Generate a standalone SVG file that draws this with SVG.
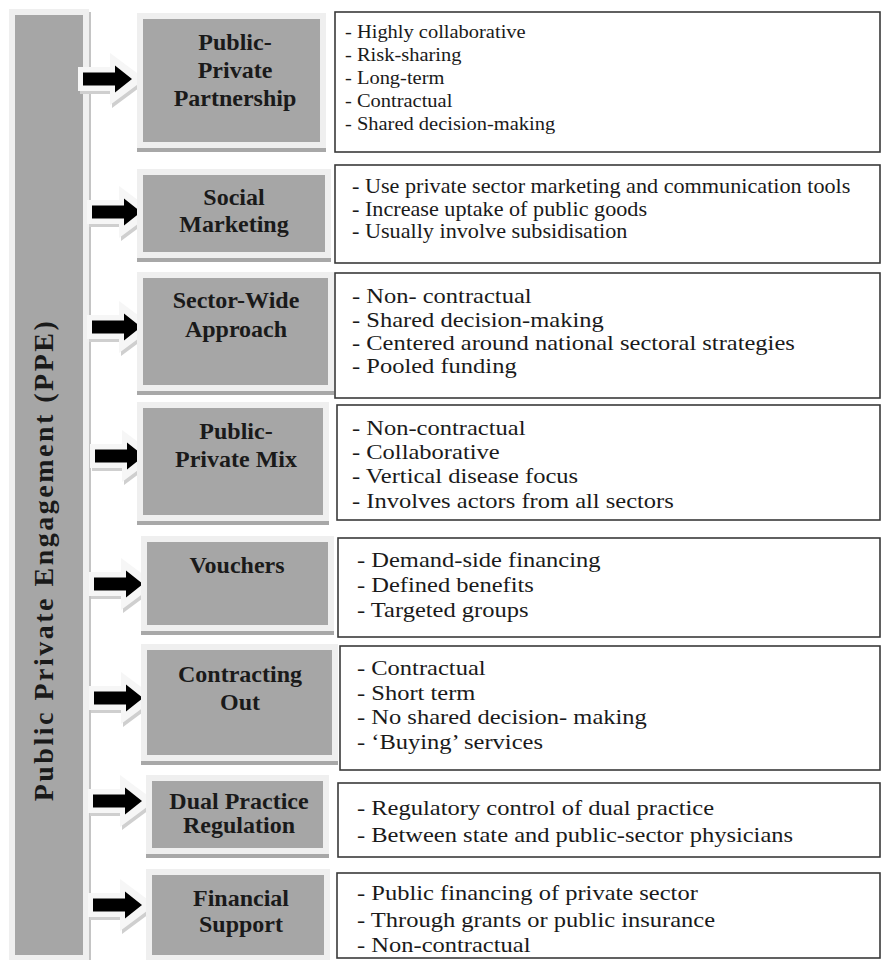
<svg xmlns="http://www.w3.org/2000/svg" xmlns:xlink="http://www.w3.org/1999/xlink" width="882" height="960" viewBox="0 0 882 960">
<style>
.frame{fill:#efefef}
.shadow{fill:#a8a8a8}
.gray{fill:#a6a6a6}
.tbox{fill:#ffffff;stroke:#3a3a3a;stroke-width:1.6}
.lbl{font-family:"Liberation Serif","Times New Roman",serif;font-weight:bold;font-size:24px;fill:#1a1a1a;text-anchor:middle}
.txt{font-family:"Liberation Serif","Times New Roman",serif;font-size:21px;fill:#1a1a1a}
.side{font-family:"Liberation Serif","Times New Roman",serif;font-weight:bold;font-size:28px;fill:#1a1a1a;text-anchor:middle;letter-spacing:2.5px}
</style>
<defs>
<g id="arr">
<polygon points="-3,-9 29,-9 29,-23 64,3 29,29 29,15 -3,15" fill="#cfcfcf"/>
<polygon points="-5,-12 27,-12 27,-26 62,0 27,26 27,12 -5,12" fill="#f6f6f6"/>
<polygon points="0,-6.5 32,-6.5 32,-13.5 49,0 32,13.5 32,6.5 0,6.5" fill="#000000"/>
</g>
</defs>
<rect width="882" height="960" fill="#ffffff"/>
<g id="ppe">
<rect class="frame" x="9" y="9" width="80" height="951"/>
<rect class="gray" x="15" y="15" width="68" height="940"/>
<line x1="90" y1="12" x2="90" y2="960" stroke="#c4c4c4" stroke-width="2"/>
<text class="side" transform="translate(53,560) rotate(-90)">Public Private Engagement (PPE)</text>
</g>
<g id="connectors">
<use xlink:href="#arr" href="#arr" transform="translate(83,79)"/>
<use xlink:href="#arr" href="#arr" transform="translate(92,212)"/>
<use xlink:href="#arr" href="#arr" transform="translate(92,327)"/>
<use xlink:href="#arr" href="#arr" transform="translate(95,456)"/>
<use xlink:href="#arr" href="#arr" transform="translate(94,584)"/>
<use xlink:href="#arr" href="#arr" transform="translate(94,698)"/>
<use xlink:href="#arr" href="#arr" transform="translate(93,801)"/>
<use xlink:href="#arr" href="#arr" transform="translate(93,905)"/>
</g>
<g id="n1">
<rect class="frame" x="137" y="13" width="189" height="135"/>
<rect class="shadow" x="137" y="148" width="189" height="4"/>
<rect class="gray" x="143" y="19" width="177" height="123"/>
<text class="lbl" x="235" y="50">Public-</text>
<text class="lbl" x="235" y="78">Private</text>
<text class="lbl" x="235" y="106">Partnership</text>
<rect class="tbox" x="335" y="12" width="545" height="140"/>
<text class="txt" style="font-size:18.6px" transform="translate(345,0) scale(1.1,1) translate(-345,0)"><tspan x="345" y="38">- Highly collaborative</tspan><tspan x="345" y="61">- Risk-sharing</tspan><tspan x="345" y="84">- Long-term</tspan><tspan x="345" y="107">- Contractual</tspan><tspan x="345" y="130">- Shared decision-making</tspan></text>
</g>
<g id="n2">
<rect class="frame" x="137" y="169" width="194" height="89"/>
<rect class="shadow" x="137" y="258" width="194" height="4"/>
<rect class="gray" x="143" y="175" width="182" height="77"/>
<text class="lbl" x="234" y="205">Social</text>
<text class="lbl" x="234" y="232">Marketing</text>
<rect class="tbox" x="335" y="165" width="545" height="98"/>
<text class="txt" transform="translate(352,0) scale(1.057,1) translate(-352,0)"><tspan x="352" y="193">- Use private sector marketing and communication tools</tspan><tspan x="352" y="216">- Increase uptake of public goods</tspan><tspan x="352" y="238">- Usually involve subsidisation</tspan></text>
</g>
<g id="n3">
<rect class="frame" x="137" y="272" width="197" height="119"/>
<rect class="shadow" x="137" y="391" width="197" height="4"/>
<rect class="gray" x="143" y="278" width="185" height="107"/>
<text class="lbl" x="236" y="308">Sector-Wide</text>
<text class="lbl" x="236" y="337">Approach</text>
<rect class="tbox" x="335" y="273" width="545" height="125"/>
<text class="txt" transform="translate(352,0) scale(1.167,1) translate(-352,0)"><tspan x="352" y="303">- Non- contractual</tspan><tspan x="352" y="327">- Shared decision-making</tspan><tspan x="352" y="350">- Centered around national sectoral strategies</tspan><tspan x="352" y="373">- Pooled funding</tspan></text>
</g>
<g id="n4">
<rect class="frame" x="137" y="402" width="192" height="119"/>
<rect class="shadow" x="137" y="521" width="192" height="4"/>
<rect class="gray" x="143" y="408" width="180" height="107"/>
<text class="lbl" x="236" y="439">Public-</text>
<text class="lbl" x="236" y="467">Private Mix</text>
<rect class="tbox" x="337" y="405" width="543" height="115"/>
<text class="txt" transform="translate(352,0) scale(1.167,1) translate(-352,0)"><tspan x="352" y="435">- Non-contractual</tspan><tspan x="352" y="459">- Collaborative</tspan><tspan x="352" y="483">- Vertical disease focus</tspan><tspan x="352" y="508">- Involves actors from all sectors</tspan></text>
</g>
<g id="n5">
<rect class="frame" x="141" y="536" width="193" height="95"/>
<rect class="shadow" x="141" y="631" width="193" height="4"/>
<rect class="gray" x="147" y="542" width="181" height="83"/>
<text class="lbl" x="237" y="573">Vouchers</text>
<rect class="tbox" x="338" y="538" width="542" height="99"/>
<text class="txt" transform="translate(357,0) scale(1.167,1) translate(-357,0)"><tspan x="357" y="567">- Demand-side financing</tspan><tspan x="357" y="592">- Defined benefits</tspan><tspan x="357" y="617">- Targeted groups</tspan></text>
</g>
<g id="n6">
<rect class="frame" x="141" y="644" width="197" height="117"/>
<rect class="shadow" x="141" y="761" width="197" height="4"/>
<rect class="gray" x="147" y="650" width="185" height="105"/>
<text class="lbl" x="240" y="682">Contracting</text>
<text class="lbl" x="240" y="710">Out</text>
<rect class="tbox" x="340" y="646" width="540" height="124"/>
<text class="txt" transform="translate(357,0) scale(1.167,1) translate(-357,0)"><tspan x="357" y="675">- Contractual</tspan><tspan x="357" y="700">- Short term</tspan><tspan x="357" y="724">- No shared decision- making</tspan><tspan x="357" y="749">- ‘Buying’ services</tspan></text>
</g>
<g id="n7">
<rect class="frame" x="146" y="775" width="183" height="79"/>
<rect class="shadow" x="146" y="854" width="183" height="4"/>
<rect class="gray" x="152" y="781" width="171" height="67"/>
<text class="lbl" x="239" y="809">Dual Practice</text>
<text class="lbl" x="239" y="833">Regulation</text>
<rect class="tbox" x="338" y="783" width="542" height="74"/>
<text class="txt" transform="translate(357,0) scale(1.167,1) translate(-357,0)"><tspan x="357" y="815">- Regulatory control of dual practice</tspan><tspan x="357" y="842">- Between state and public-sector physicians</tspan></text>
</g>
<g id="n8">
<rect class="frame" x="146" y="869" width="184" height="91"/>
<rect class="gray" x="152" y="875" width="172" height="80"/>
<text class="lbl" x="241" y="906">Financial</text>
<text class="lbl" x="241" y="932">Support</text>
<rect class="tbox" x="337" y="873" width="543" height="85"/>
<text class="txt" transform="translate(357,0) scale(1.167,1) translate(-357,0)"><tspan x="357" y="900">- Public financing of private sector</tspan><tspan x="357" y="927">- Through grants or public insurance</tspan><tspan x="357" y="952">- Non-contractual</tspan></text>
</g>
</svg>
